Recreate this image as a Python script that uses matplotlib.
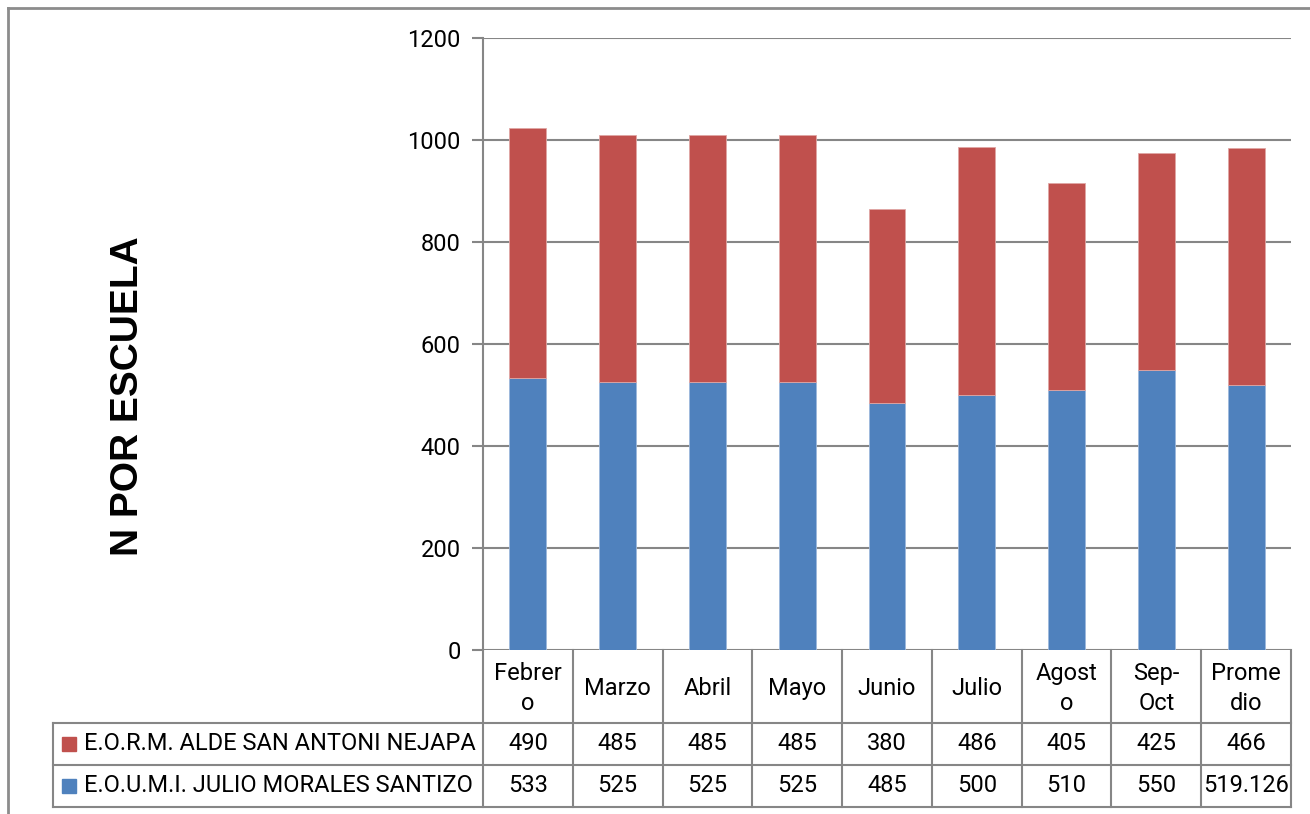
import numpy as np
import matplotlib
matplotlib.use("Agg")
import matplotlib.pyplot as plt
from matplotlib.lines import Line2D
from matplotlib.patches import Rectangle
import matplotlib.transforms as mtransforms

# --- Data ---------------------------------------------------------------------
months = ["Febrer\no", "Marzo", "Abril", "Mayo", "Junio", "Julio",
          "Agost\no", "Sep-\nOct", "Prome\ndio"]
series_names = ["E.O.R.M. ALDE SAN ANTONI NEJAPA",
                "E.O.U.M.I. JULIO MORALES SANTIZO"]
red_vals = [490, 485, 485, 485, 380, 486, 405, 425, 466]
blue_vals = [533, 525, 525, 525, 485, 500, 510, 550, 519.126]
y_ticks = [0, 200, 400, 600, 800, 1000, 1200]

RED = "#C0504D"
BLUE = "#4F81BD"
GRID = "#868686"
LINE = "#8C8C8C"
FS = 17

plt.rcParams["font.family"] = ["Roboto", "DejaVu Sans"]

fig = plt.figure(figsize=(13.1, 8.14), dpi=100)
W, H = 1310, 814
ax = fig.add_axes([483 / W, 1 - 650 / H, (1291 - 483) / W, (650 - 38) / H])

x = np.arange(len(months))
ax.bar(x, blue_vals, width=0.41, color=BLUE, edgecolor="#9DB8DC", linewidth=0.6, zorder=3)
ax.bar(x, red_vals, width=0.41, bottom=blue_vals, color=RED, edgecolor="#E0A6A4",
       linewidth=0.6, zorder=3)

ax.set_xlim(-0.5, len(months) - 0.5)
ax.set_ylim(0, 1200)
ax.set_yticks(y_ticks)
ax.set_yticklabels([str(t) for t in y_ticks], fontsize=FS)
ax.set_xticks([])
ax.yaxis.grid(True, color=GRID, linewidth=1.5, zorder=0)
ax.tick_params(axis="y", length=8, width=1.5, color=GRID, pad=8)
for s in ["top", "right", "bottom"]:
    ax.spines[s].set_visible(False)
ax.spines["left"].set_color(GRID)
ax.spines["left"].set_linewidth(1.5)

ax.set_ylabel("N POR ESCUELA", fontsize=28, fontweight="bold",
              family=["Liberation Sans", "DejaVu Sans"], labelpad=0)
ax.yaxis.set_label_coords(-0.417, 0.415)

# --- Data table under the axis ------------------------------------------------
trans = mtransforms.blended_transform_factory(ax.transData, ax.transAxes)
px = 1.0 / (650 - 38)  # one pixel in axes-y units
col_px = (1291 - 483) / len(months)
row_edges = [0, -73 * px, -115 * px, -157 * px]
left_x = -0.5 - (483 - 53) / col_px
right_x = len(months) - 0.5

def hline(x0, x1, y):
    ax.add_line(Line2D([x0, x1], [y, y], transform=trans, color=GRID,
                       linewidth=1.5, clip_on=False))

def vline(xv, y0, y1):
    ax.add_line(Line2D([xv, xv], [y0, y1], transform=trans, color=GRID,
                       linewidth=1.5, clip_on=False))

# header row
for i in range(len(months) + 1):
    vline(i - 0.5, row_edges[0], row_edges[3])
for i, m in enumerate(months):
    ax.text(i, (row_edges[0] + row_edges[1]) / 2 - 2 * px, m, transform=trans,
            ha="center", va="center", fontsize=FS, linespacing=1.35, clip_on=False)

# body rows
hline(left_x, right_x, row_edges[1])
hline(left_x, right_x, row_edges[2])
hline(left_x, right_x, row_edges[3])
vline(left_x, row_edges[1], row_edges[3])

for r, (name, vals, col) in enumerate([(series_names[0], red_vals, RED),
                                       (series_names[1], blue_vals, BLUE)]):
    yc = (row_edges[r + 1] + row_edges[r + 2]) / 2
    ax.add_patch(Rectangle((left_x + 9 / col_px, yc - 7 * px), 14 / col_px, 14 * px,
                           transform=trans, color=col, clip_on=False))
    ax.text(left_x + 31 / col_px, yc, name, transform=trans, ha="left", va="center",
            fontsize=FS, clip_on=False)
    for i, v in enumerate(vals):
        ax.text(i, yc, f"{v:g}", transform=trans, ha="center", va="center",
                fontsize=FS, clip_on=False)

# outer chart border (top and left visible)
fig.add_artist(Line2D([8 / W, 1.0], [1 - 8 / H, 1 - 8 / H], color=LINE, linewidth=2))
fig.add_artist(Line2D([8 / W, 8 / W], [0, 1 - 8 / H], color=LINE, linewidth=2))

fig.savefig("out.png", dpi=100)
